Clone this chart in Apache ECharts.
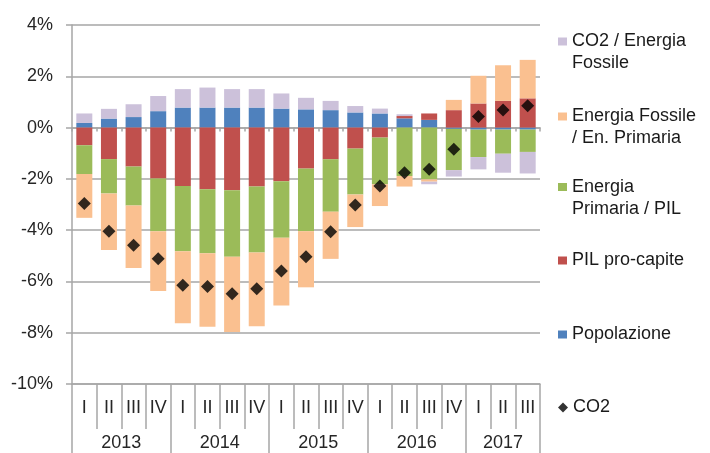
<!DOCTYPE html>
<html>
<head>
<meta charset="utf-8">
<script src="https://cdn.jsdelivr.net/npm/echarts@6/dist/echarts.min.js"></script>
<style>html,body{margin:0;padding:0;background:#fff}#c{width:710px;height:453px}</style>
</head>
<body>
<div id="c"></div>
<script>
const quarters = ['I','II','III','IV','I','II','III','IV','I','II','III','IV','I','II','III','IV','I','II','III'];
const years = ['2013','2014','2015','2016','2017'];
const quartersPerYear = [4,4,4,4,3];
const yTicks = [-10,-8,-6,-4,-2,0,2,4];

const popolazione   = [0.18,0.35,0.41,0.64,0.78,0.78,0.78,0.78,0.74,0.71,0.68,0.59,0.55,0.36,0.30,-0.05,-0.08,-0.08,-0.08];
const pilProCapite  = [-0.69,-1.23,-1.52,-1.99,-2.28,-2.41,-2.44,-2.30,-2.09,-1.60,-1.24,-0.82,-0.39,0.09,0.25,0.68,0.94,1.04,1.14];
const energiaPrimPil= [-1.12,-1.34,-1.52,-2.05,-2.54,-2.49,-2.60,-2.57,-2.21,-2.44,-2.04,-1.79,-1.82,-1.89,-2.02,-1.61,-1.07,-0.94,-0.87];
const fossPrimaria  = [-1.71,-2.20,-2.44,-2.33,-2.81,-2.87,-2.93,-2.88,-2.64,-2.19,-1.84,-1.27,-0.85,-0.41,-0.09,0.40,1.08,1.39,1.50];
const co2Fossile    = [0.37,0.38,0.50,0.59,0.72,0.78,0.72,0.72,0.59,0.45,0.36,0.25,0.19,0.07,-0.10,-0.25,-0.48,-0.74,-0.84];
const co2           = [-2.96,-4.04,-4.59,-5.12,-6.15,-6.20,-6.48,-6.29,-5.59,-5.04,-4.06,-3.02,-2.28,-1.76,-1.63,-0.85,0.43,0.69,0.85];

const names = ['Popolazione','PIL pro-capite','Energia Primaria / PIL','Energia Fossile / En. Primaria','CO2 / Energia Fossile','CO2'];
const legendLabels = {
  'CO2 / Energia Fossile': 'CO2 / Energia\nFossile',
  'Energia Fossile / En. Primaria': 'Energia Fossile\n/ En. Primaria',
  'Energia Primaria / PIL': 'Energia\nPrimaria / PIL',
  'PIL pro-capite': 'PIL pro-capite',
  'Popolazione': 'Popolazione',
  'CO2': 'CO2'
};
const colors = ['#4f81bd','#c0504d','#9bbb59','#fac090','#ccc1da'];

// year axis slots (half-quarter resolution, boundaryGap false)
const yearSlots = [];
const yearTickIdx = [0];
const yearLabelIdx = [];
let pos = 0;
years.forEach((y, i) => {
  yearLabelIdx.push(pos * 2 + quartersPerYear[i]);
  pos += quartersPerYear[i];
  yearTickIdx.push(pos * 2);
});
for (let k = 0; k <= pos * 2; k++) {
  const li = yearLabelIdx.indexOf(k);
  yearSlots.push(li >= 0 ? years[li] : ' ' + k);
}

const gray = '#a6a6a6';
const font = 'Liberation Sans, Arial, sans-serif';
const fs = 18;
const LH = 22;

const chart = echarts.init(document.getElementById('c'), null, {renderer: 'canvas'});

const barData = [popolazione, pilProCapite, energiaPrimPil, fossPrimaria, co2Fossile];
const series = barData.map((d, i) => ({
  name: names[i], type: 'bar', stack: 'tot', data: d,
  barWidth: 16, itemStyle: {color: colors[i]}, xAxisIndex: 0, yAxisIndex: 0
}));
series.push({
  name: 'CO2', type: 'scatter', data: co2, symbol: 'diamond', symbolSize: 13,
  itemStyle: {color: '#000'}, xAxisIndex: 0, yAxisIndex: 0, z: 5
});

const legendOrder = ['CO2 / Energia Fossile','Energia Fossile / En. Primaria','Energia Primaria / PIL','PIL pro-capite','Popolazione','CO2'];
const legendCenters = [41.5,116.5,187,260.5,334.5,407.5];
const legends = legendOrder.map((n, i) => {
  const twoLine = legendLabels[n].indexOf('\n') >= 0;
  const isCO2 = n === 'CO2';
  return {
    data: [n], orient: 'vertical', left: 558,
    top: legendCenters[i] - (twoLine ? 1.5 * LH : 0.5 * LH), padding: 0,
    itemWidth: isCO2 ? 10 : 9, itemHeight: isCO2 ? 10 : 8,
    icon: isCO2 ? 'diamond' : 'rect',
    // leading empty line keeps the marker level with the first text line
    formatter: v => (legendLabels[v].indexOf('\n') >= 0 ? '\n' : '') + legendLabels[v],
    selectedMode: false,
    textStyle: {fontSize: fs, lineHeight: LH, color: '#1a1a1a', fontFamily: font}
  };
});

chart.setOption({
  animation: false,
  textStyle: {fontFamily: font},
  grid: {left: 72, top: 25, width: 468, height: 360},
  legend: legends,
  xAxis: [
    {
      type: 'category', data: quarters, boundaryGap: true,
      axisLine: {onZero: true, lineStyle: {color: gray, width: 1.5}},
      axisTick: {show: true, length: 4, interval: 0, lineStyle: {color: gray, width: 1.5}},
      axisLabel: {show: false}, splitLine: {show: false}
    },
    {
      type: 'category', data: quarters, position: 'bottom', boundaryGap: true,
      axisLine: {onZero: false, lineStyle: {color: gray, width: 1.5}},
      axisTick: {show: true, length: 45, interval: 0, lineStyle: {color: gray, width: 1.5}},
      axisLabel: {interval: 0, margin: 15, fontSize: fs, lineHeight: 19, color: '#262626', fontFamily: font},
      splitLine: {show: false}
    },
    {
      type: 'category', data: yearSlots, position: 'bottom', boundaryGap: false,
      axisLine: {show: false, onZero: false},
      axisTick: {show: true, length: 70, interval: idx => yearTickIdx.indexOf(idx) >= 0, lineStyle: {color: gray, width: 1.5}},
      axisLabel: {interval: idx => yearLabelIdx.indexOf(idx) >= 0, margin: 50, fontSize: fs, lineHeight: 19, color: '#262626', fontFamily: font},
      splitLine: {show: false}
    }
  ],
  yAxis: {
    type: 'value', min: yTicks[0], max: yTicks[yTicks.length - 1], interval: 2,
    axisLine: {show: true, lineStyle: {color: gray, width: 1.5}},
    axisTick: {show: true, length: 6, lineStyle: {color: gray, width: 1.5}},
    axisLabel: {formatter: v => v + '%', margin: 19, fontSize: fs, color: '#262626', fontFamily: font},
    splitLine: {show: true, lineStyle: {color: gray, width: 1.5}}
  },
  series: series
});
</script>
</body>
</html>
